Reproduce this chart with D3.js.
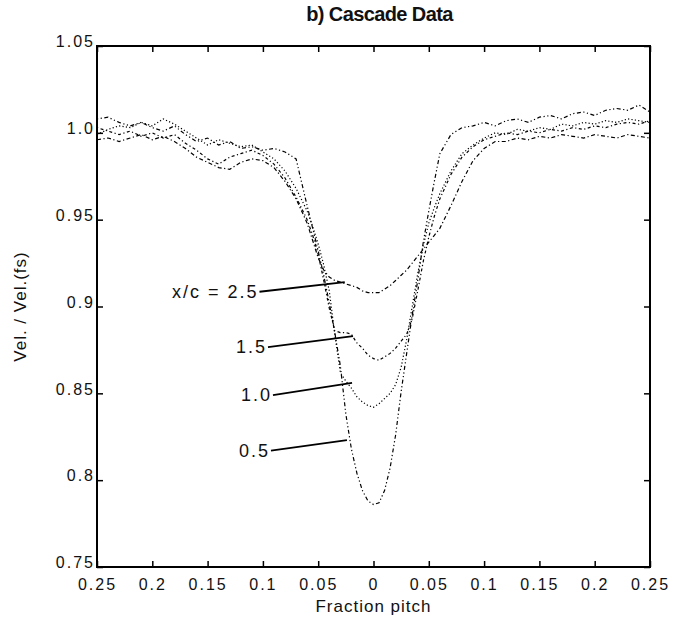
<!DOCTYPE html>
<html>
<head>
<meta charset="utf-8">
<script src="https://cdn.jsdelivr.net/npm/d3@7/dist/d3.min.js"></script>
<style>
body { margin: 0; background: #fff; }
svg text { font-family: "Liberation Sans", Arial, sans-serif; fill: #111; }
</style>
</head>
<body>
<div id="chart"></div>
<script>
// pitch positions (fraction pitch, signed)
var pitch = [-0.25, -0.24, -0.23, -0.22, -0.21, -0.20, -0.19, -0.18, -0.17, -0.16,
	-0.15, -0.14, -0.13, -0.12, -0.11, -0.10, -0.09, -0.08, -0.07, -0.06,
	-0.055, -0.05, -0.045, -0.04, -0.035, -0.03, -0.025, -0.02, -0.015, -0.01,
	-0.005, 0, 0.005, 0.01, 0.015, 0.02, 0.025, 0.03, 0.035, 0.04,
	0.045, 0.05, 0.055, 0.06, 0.07, 0.08, 0.09, 0.10, 0.11, 0.12,
	0.13, 0.14, 0.15, 0.16, 0.17, 0.18, 0.19, 0.20, 0.21, 0.22,
	0.23, 0.24, 0.25];

// Vel / Vel(fs) at each x/c station
var vel05 = [1.008, 1.009, 1.006, 1.004, 1.006, 1.003, 1.001, 1.004, 0.999, 0.995,
	0.997, 0.993, 0.995, 0.991, 0.992, 0.990, 0.991, 0.989, 0.985, 0.958,
	0.945, 0.932, 0.918, 0.902, 0.885, 0.866, 0.838, 0.818, 0.804, 0.794,
	0.788, 0.786, 0.787, 0.794, 0.807, 0.826, 0.851, 0.873, 0.895, 0.915,
	0.937, 0.955, 0.972, 0.988, 0.999, 1.003, 1.004, 1.006, 1.004, 1.007,
	1.008, 1.006, 1.009, 1.010, 1.008, 1.011, 1.012, 1.010, 1.013, 1.014,
	1.013, 1.016, 1.012];
var vel10 = [0.999, 1.002, 1.004, 1.003, 1.006, 1.004, 1.008, 1.005, 1.001, 0.997,
	0.993, 0.996, 0.994, 0.992, 0.993, 0.989, 0.985, 0.978, 0.968, 0.955,
	0.946, 0.936, 0.924, 0.909, 0.884, 0.862, 0.857, 0.853, 0.848, 0.845,
	0.843, 0.842, 0.844, 0.847, 0.850, 0.855, 0.865, 0.881, 0.900, 0.919,
	0.935, 0.948, 0.957, 0.965, 0.978, 0.988, 0.993, 0.997, 1.000, 0.999,
	1.002, 1.001, 1.003, 1.002, 1.005, 1.004, 1.006, 1.005, 1.007, 1.006,
	1.008, 1.007, 1.006];
var vel15 = [1.003, 1.001, 0.999, 1.001, 0.998, 1.000, 0.997, 0.999, 0.994, 0.990,
	0.985, 0.982, 0.986, 0.988, 0.990, 0.987, 0.982, 0.974, 0.963, 0.950,
	0.941, 0.930, 0.915, 0.899, 0.886, 0.885, 0.885, 0.884, 0.879, 0.876,
	0.872, 0.870, 0.869, 0.871, 0.873, 0.876, 0.880, 0.884, 0.893, 0.909,
	0.926, 0.940, 0.952, 0.962, 0.976, 0.986, 0.992, 0.996, 0.998, 1.000,
	0.999, 1.001, 1.000, 1.002, 1.001, 1.003, 1.002, 1.004, 1.003, 1.005,
	1.006, 1.005, 1.007];
var vel25 = [0.996, 0.997, 0.995, 0.997, 0.999, 0.996, 0.998, 0.995, 0.991, 0.986,
	0.983, 0.980, 0.979, 0.983, 0.985, 0.984, 0.980, 0.972, 0.962, 0.948,
	0.938, 0.928, 0.921, 0.917, 0.915, 0.914, 0.913, 0.912, 0.911, 0.909,
	0.908, 0.908, 0.908, 0.910, 0.912, 0.915, 0.918, 0.921, 0.925, 0.929,
	0.933, 0.937, 0.941, 0.945, 0.958, 0.972, 0.984, 0.991, 0.995, 0.995,
	0.997, 0.996, 0.998, 0.997, 0.999, 0.998, 0.997, 0.999, 0.998, 0.997,
	0.999, 0.998, 0.997];

var xTicks = [-0.25, -0.2, -0.15, -0.1, -0.05, 0, 0.05, 0.1, 0.15, 0.2, 0.25];
var xTickLabels = ["0.25", "0.2", "0.15", "0.1", "0.05", "0", "0.05", "0.1", "0.15", "0.2", "0.25"];
var yTicks = [0.75, 0.8, 0.85, 0.9, 0.95, 1.0, 1.05];
var yTickLabels = ["0.75", "0.8", "0.85", "0.9", "0.95", "1.0", "1.05"];

// station labels with leader lines: text end point and curve end point (data units)
var stationNames = ["x/c = 2.5", "1.5", "1.0", "0.5"];
var leaderStart = [[-0.104, 0.9085], [-0.0963, 0.8766], [-0.0918, 0.849], [-0.0936, 0.817]];
var leaderEnd = [[-0.026, 0.914], [-0.0185, 0.883], [-0.0194, 0.856], [-0.024, 0.823]];

var series = [vel25, vel15, vel10, vel05];
var dashes = ["4,2.5,1.2,2.5", "1.2,2.5,3,2.5", "1.2,2.2", "1.2,2.5,1.2,2.5,4,2.5"];

var margin = {top: 46, right: 24, bottom: 61, left: 97},
	width = 674 - margin.left - margin.right,
	height = 628 - margin.top - margin.bottom;

var svg = d3.select("#chart").append("svg")
	.attr("width", width + margin.left + margin.right)
	.attr("height", height + margin.top + margin.bottom);

var g = svg.append("g")
	.attr("transform", "translate(" + margin.left + "," + margin.top + ")");

var x = d3.scaleLinear().domain([-0.25, 0.25]).range([0, width]);
var y = d3.scaleLinear().domain([0.75, 1.05]).range([height, 0]);

var line = d3.line()
	.x(function(d) { return x(d[0]); })
	.y(function(d) { return y(d[1]); });

// curves
g.selectAll("path.curve")
	.data(series)
	.enter().append("path")
	.attr("class", "curve")
	.attr("d", function(s) { return line(pitch.map(function(p, i) { return [p, s[i]]; })); })
	.attr("fill", "none")
	.attr("stroke", "#000")
	.attr("stroke-width", 1.2)
	.attr("stroke-dasharray", function(s, i) { return dashes[i]; });

// axes, ticks pointing inward
function fmt(labels, ticks) {
	return function(d) { return labels[ticks.indexOf(d)]; };
}

var xb = g.append("g")
	.attr("transform", "translate(0," + height + ")")
	.call(d3.axisBottom(x).tickValues(xTicks).tickFormat(fmt(xTickLabels, xTicks)).tickSizeInner(-6).tickSizeOuter(0).tickPadding(12));
var xt = g.append("g")
	.call(d3.axisTop(x).tickValues(xTicks).tickFormat("").tickSizeInner(-6).tickSizeOuter(0));
var yl = g.append("g")
	.call(d3.axisLeft(y).tickValues(yTicks).tickFormat(fmt(yTickLabels, yTicks)).tickSizeInner(-6).tickSizeOuter(0).tickPadding(2));
var yr = g.append("g")
	.attr("transform", "translate(" + width + ",0)")
	.call(d3.axisRight(y).tickValues(yTicks).tickFormat("").tickSizeInner(-6).tickSizeOuter(0));

[xb, xt, yl, yr].forEach(function(a) {
	a.select(".domain").remove();
	a.selectAll(".tick line").attr("stroke", "#000").attr("stroke-width", 1.5);
});
xb.selectAll(".tick text").attr("font-size", 16).attr("letter-spacing", 2).attr("fill", "#111");
yl.selectAll(".tick text").attr("font-size", 16).attr("letter-spacing", 2).attr("fill", "#111")
	.attr("dy", "0.05em");

g.append("rect")
	.attr("width", width).attr("height", height)
	.attr("fill", "none").attr("stroke", "#000").attr("stroke-width", 2);

// leader lines and station labels
var ann = g.append("g");
stationNames.forEach(function(name, i) {
	var a = leaderStart[i], b = leaderEnd[i];
	ann.append("line")
		.attr("x1", x(a[0]) + 1).attr("y1", y(a[1]))
		.attr("x2", x(b[0])).attr("y2", y(b[1]))
		.attr("stroke", "#000").attr("stroke-width", 1.8);
	ann.append("text")
		.attr("x", x(a[0])).attr("y", y(a[1]))
		.attr("dy", "0.35em")
		.attr("text-anchor", "end")
		.attr("font-size", 18)
		.attr("letter-spacing", 2)
		.text(name);
});

// title and axis labels
svg.append("text")
	.attr("x", margin.left + width / 2 + 6).attr("y", 21)
	.attr("text-anchor", "middle")
	.attr("font-size", 20).attr("font-weight", "bold").attr("letter-spacing", -0.6)
	.text("b)  Cascade Data");

svg.append("text")
	.attr("x", margin.left + width / 2).attr("y", 612)
	.attr("text-anchor", "middle")
	.attr("font-size", 17).attr("letter-spacing", 1)
	.text("Fraction pitch");

svg.append("text")
	.attr("transform", "translate(26," + (margin.top + height / 2) + ") rotate(-90)")
	.attr("text-anchor", "middle")
	.attr("font-size", 17).attr("letter-spacing", 1)
	.text("Vel. / Vel.(fs)");
</script>
</body>
</html>
